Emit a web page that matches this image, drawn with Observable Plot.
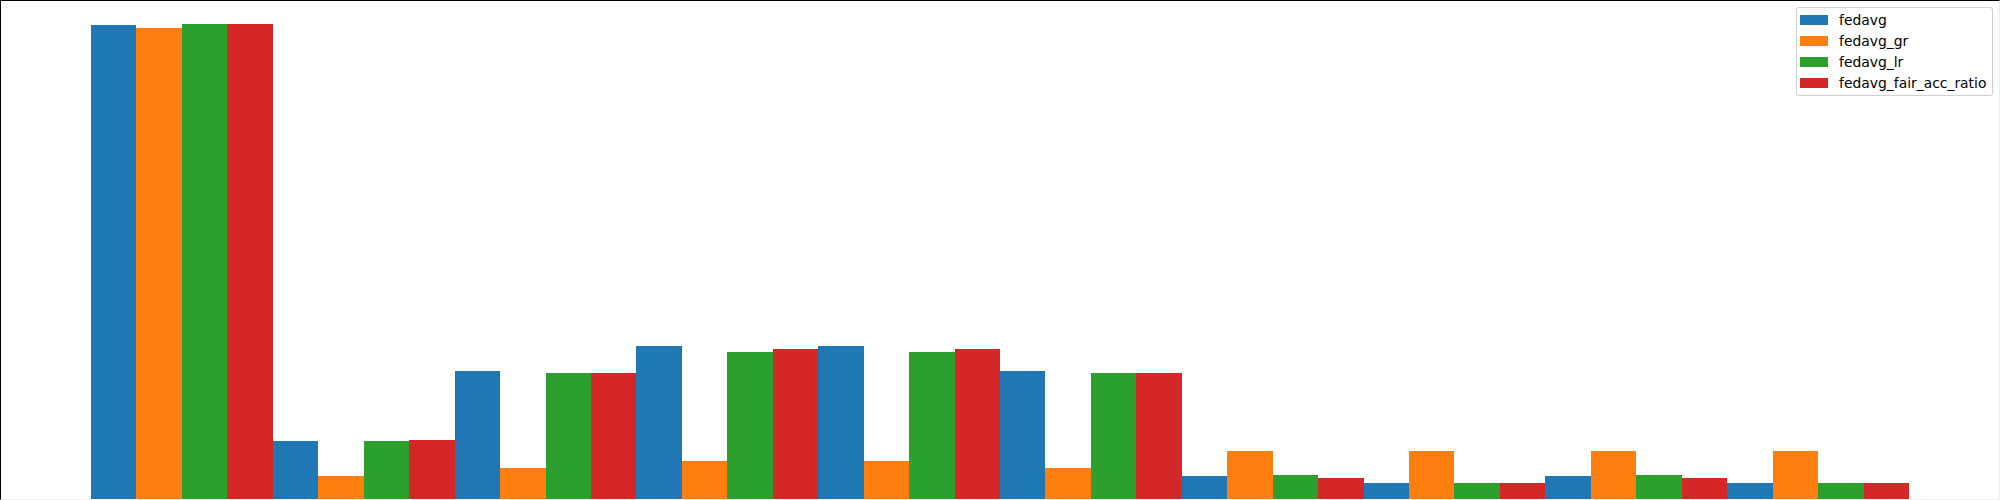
<!DOCTYPE html>
<html>
<head>
<meta charset="utf-8">
<script src="https://cdn.jsdelivr.net/npm/d3@7"></script>
<script src="https://cdn.jsdelivr.net/npm/@observablehq/plot@0.6"></script>
<style>
  html, body { margin: 0; padding: 0; background: #fff; }
  #wrap { position: relative; width: 2000px; height: 500px; overflow: hidden; }
  #frame { position: absolute; left: 0; top: 0; width: 2000px; height: 500px; box-sizing: border-box;
           border-left: 1.5px solid #000; border-top: 1.5px solid #000;
           border-right: 1px solid #eee; border-bottom: 1px solid #eee; pointer-events: none; }
  #legend { position: absolute; left: 1796px; top: 7px; width: 195px; height: 87px;
            border: 1px solid #d0d0d0; border-radius: 3px; background: rgba(255,255,255,0.8);
            font-family: "DejaVu Sans", sans-serif; font-size: 13.9px; color: #000; }
  .row { position: absolute; left: 3px; height: 16px; display: flex; align-items: center; }
  .sw { width: 28px; height: 10px; margin-right: 11px; }
</style>
</head>
<body>
<div id="wrap"><div id="chart"></div><div id="frame"></div><div id="legend"></div></div>
<script>
const groups = [1, 2, 3, 4, 5, 6, 7, 8, 9, 10];
const series = ["fedavg", "fedavg_gr", "fedavg_lr", "fedavg_fair_acc_ratio"];
const colors = ["#1f77b4", "#ff7f0e", "#2ca02c", "#d62728"];
const fedavg              = [0.475, 0.059, 0.129, 0.154, 0.154, 0.129, 0.024, 0.017, 0.024, 0.017];
const fedavg_gr           = [0.472, 0.024, 0.032, 0.039, 0.039, 0.032, 0.049, 0.049, 0.049, 0.049];
const fedavg_lr           = [0.476, 0.059, 0.127, 0.148, 0.148, 0.127, 0.025, 0.017, 0.025, 0.017];
const fedavg_fair_acc_ratio = [0.476, 0.060, 0.127, 0.151, 0.151, 0.127, 0.022, 0.017, 0.022, 0.017];
const values = [fedavg, fedavg_gr, fedavg_lr, fedavg_fair_acc_ratio];

const data = [];
groups.forEach((g, i) => series.forEach((s, j) => data.push({group: g, series: s, value: values[j][i]})));

const chart = Plot.plot({
  width: 2000, height: 500,
  marginLeft: 91, marginRight: 91, marginTop: 0, marginBottom: 0,
  fx: {domain: groups, padding: 0, round: false, axis: null, label: null},
  x: {domain: series, padding: 0, round: false, axis: null},
  y: {domain: [0, 0.5], axis: null},
  color: {domain: series, range: colors},
  marks: [
    Plot.barY(data, {fx: "group", x: "series", y: "value", fill: "series", inset: 0, shapeRendering: "crispEdges"})
  ]
});
document.getElementById("chart").appendChild(chart);

const legend = document.getElementById("legend");
series.forEach((s, j) => {
  const row = document.createElement("div");
  row.className = "row";
  row.style.top = (4 + j * 21) + "px";
  const sw = document.createElement("div");
  sw.className = "sw";
  sw.style.background = colors[j];
  const t = document.createElement("span");
  t.textContent = s;
  row.appendChild(sw); row.appendChild(t);
  legend.appendChild(row);
});
</script>
</body>
</html>
